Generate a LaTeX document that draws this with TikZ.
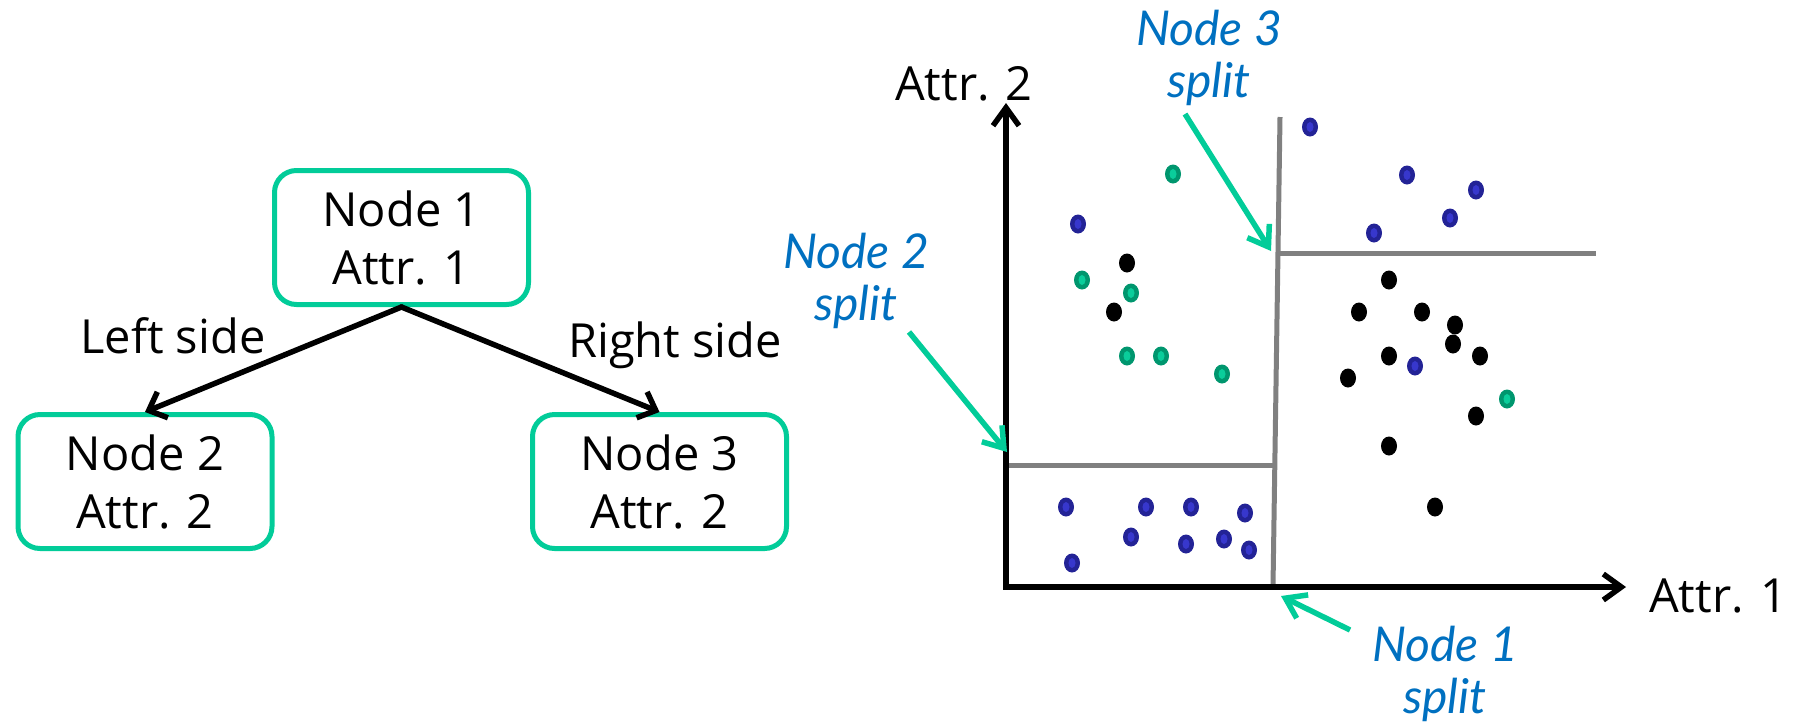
\documentclass[tikz,border=0pt]{standalone}
\usepackage{fontspec}
\setmainfont{Open Sans}
\newfontfamily\notefont{Lato}
\usetikzlibrary{arrows.meta}

\definecolor{boxgreen}{RGB}{2,204,153}
\definecolor{noteblue}{RGB}{0,112,192}
\definecolor{splitgray}{RGB}{128,128,128}
\definecolor{bluerim}{RGB}{35,35,150}
\definecolor{bluecore}{RGB}{55,55,205}
\definecolor{greenrim}{RGB}{0,150,110}
\definecolor{greencore}{RGB}{10,205,155}

\begin{document}
\begin{tikzpicture}[x=1pt,y=-1pt,
  treebox/.style={draw=boxgreen,line width=5pt,rounded corners=22pt,
    minimum width=254pt,minimum height=134pt,align=center,inner sep=0pt,
    font=\fontsize{47}{58}\selectfont},
  bigtext/.style={font=\fontsize{47}{58}\selectfont,inner sep=0pt,anchor=base},
  notetext/.style={font=\notefont\itshape\fontsize{48}{52}\selectfont,
    text=noteblue,align=center,inner sep=0pt,anchor=base},
  treearrow/.style={line width=5.5pt,line cap=round,
    -{Straight Barb[length=15pt,width=28pt]}},
  axisline/.style={line width=5.5pt,line join=miter,
    {Straight Barb[length=18pt,width=26pt]}-{Straight Barb[length=18pt,width=26pt]}},
  splitline/.style={line width=5pt,draw=splitgray},
  notearrow/.style={line width=5.5pt,draw=boxgreen,
    -{Straight Barb[length=19pt,width=26pt]}},
]
\useasboundingbox (0,0) rectangle (1793,724);

% ---------- decision tree ----------
\node[treebox] (n1) at (401.5,237.5) {Node 1\\Attr. 1};
\node[treebox] (n2) at (145,481.5) {Node 2\\Attr. 2};
\node[treebox] (n3) at (659.5,481.5) {Node 3\\Attr. 2};

\draw[treearrow] (n1.south) -- (n2.north);
\draw[treearrow] (n1.south) -- (n3.north);

\node[bigtext] (lside) at (173,353) {Left side};
\node[bigtext] (rside) at (675,357) {Right side};

% ---------- feature space ----------
\coordinate (ytop) at (1006,103);
\coordinate (orig) at (1006,587);
\coordinate (xend) at (1626,587);

% split boundaries
\coordinate (s1top) at (1280,117);
\coordinate (s1bot) at (1273,586);
\coordinate (s3l) at (1278,253);
\coordinate (s3r) at (1596,253);
\coordinate (s2l) at (1008,465);
\coordinate (s2r) at (1274,465);
\draw[splitline] (s1top) -- (s1bot);
\draw[splitline] (s3l) -- (s3r);
\draw[splitline] (s2l) -- (s2r);

\draw[axisline] (ytop) -- (orig) -- (xend);

\node[bigtext] (attrtwo) at (964,100) {Attr. 2};
\node[bigtext] (attrone) at (1718,612) {Attr. 1};

% data points
\foreach \px/\py in {1310/127,1407/175,1476/190,1450/218,1374/233,1078/224,1415/366,
  1066/507,1146/507,1191/507,1245/513,1131/537,1186/544,1224/539,1249/550,1072/563}{
  \fill[bluerim] (\px,\py) ellipse [x radius=8pt,y radius=9.5pt];
  \fill[bluecore] (\px,\py) ellipse [x radius=3.5pt,y radius=5pt];
}
\foreach \px/\py in {1173/174,1082/280,1131/293,1127/356,1161/356,1222/374,1507/399}{
  \fill[greenrim] (\px,\py) ellipse [x radius=8pt,y radius=9.5pt];
  \fill[greencore] (\px,\py) ellipse [x radius=3.5pt,y radius=5pt];
}
\foreach \px/\py in {1127/263,1114/312,1389/280,1359/312,1422/312,1455/325,1453/344,
  1480/356,1389/356,1348/378,1476/416,1389/446,1435/507}{
  \fill[black] (\px,\py) ellipse [x radius=8pt,y radius=9.5pt];
}

% split annotations (anchored at the baseline of the second line)
\node[notetext] (note3) at (1209,97) {Node 3\\split};
\node[notetext] (note2) at (856,320) {Node 2\\split};
\node[notetext] (note1) at (1445,713) {Node 1\\split};

\coordinate (tail3) at (1185,114);
\coordinate (head3) at (1271,251);
\coordinate (tail2) at (909,332);
\coordinate (head2) at (1007,452);
\coordinate (tail1) at (1350,630);
\coordinate (head1) at (1281,596);
\draw[notearrow] (tail3) -- (head3);
\draw[notearrow] (tail2) -- (head2);
\draw[notearrow] (tail1) -- (head1);
\end{tikzpicture}
\end{document}
